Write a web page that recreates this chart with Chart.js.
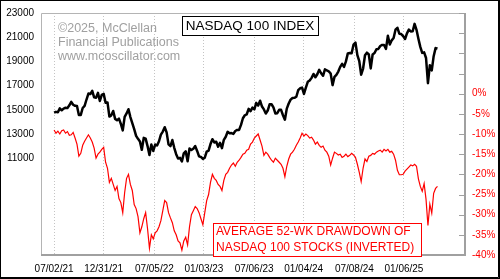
<!DOCTYPE html>
<html>
<head>
<meta charset="utf-8">
<script src="https://cdn.jsdelivr.net/npm/chart.js@4.4.1/dist/chart.umd.min.js"></script>
<style>
  html, body { margin: 0; padding: 0; background: #fff; }
  #myChart { display: block; }
</style>
</head>
<body>
<canvas id="myChart" width="500" height="279"></canvas>
<script>
// weekly values, Fridays, first week is 07/02/21
const firstWeek = '2021-07-02';

const ndx = [
  14760, 14830, 14800, 15120, 14960, 15100, 15170, 15140, 15370, 15650, 15420, 15330, 15310, 14570,
  14580, 15150, 15320, 15850, 16340, 16300, 16570, 16030, 15990, 16400, 15730, 16240, 16320,
  // 2022
  15590, 15610, 14440, 14540, 14900, 14250, 14140, 14270, 13840, 13300, 14420, 14700, 15050,
  14400, 13900, 13400, 12850, 12600, 12390, 11690, 12680, 12620, 12000, 11270, 12130, 11600,
  12130, 12050, 12400, 12950, 13200, 13560, 13130, 12140, 12000, 12500, 11860, 11330, 10970,
  11030, 10740, 11400, 11570, 10750, 11800, 11680, 11780, 12000, 11600, 11150, 11100, 10940,
  // 2023
  11040, 11540, 11620, 12170, 12570, 12300, 12360, 11950, 12270, 11830, 12520, 12770, 13180,
  13070, 13080, 13010, 13250, 13340, 13340, 13750, 14300, 14550, 14630, 15080, 14890, 15180,
  15030, 15570, 15350, 15750, 15270, 15030, 14690, 14940, 15450, 15460, 15200, 14700, 14720,
  15000, 14995, 14550, 14180, 15100, 15520, 15840, 15980, 15990, 16080, 16620, 16780, 16830,
  // 2024
  16310, 16830, 17310, 17420, 17640, 17960, 17690, 17940, 18300, 18020, 17810, 18340, 18250,
  18180, 18000, 17040, 17720, 17890, 18160, 18550, 18800, 18540, 19000, 19660, 19700, 19680,
  20390, 20550, 19520, 19020, 17900, 18410, 19510, 19720, 19570, 18420, 19570, 19690, 20000,
  20030, 20270, 20360, 20350, 20030, 21120, 20390, 20740, 20930, 21620, 21780, 21290, 21260,
  // 2025
  21090, 20850, 21320, 21630, 21480, 21490, 22100, 21610, 20880, 20200, 19700, 19750, 19280,
  17200, 18690, 18260, 19430, 20100, 20060
];

// average 52-week drawdown of NASDAQ 100 stocks, percent
const drawdown = [
  -9.0, -9.8, -9.3, -10.0, -9.2, -9.0, -9.8, -9.4, -10.3, -10.2,
  -9.6, -11.0, -12.5, -15.5, -14.8, -12.8, -11.8, -11.0, -10.2, -11.0,
  -12.0, -13.5, -16.0, -15.0, -14.5, -13.8, -13.3, -17.0, -18.5, -22.0,
  -21.0, -22.5, -24.0, -23.0, -26.0, -27.0, -29.5, -24.5, -21.0, -20.0,
  -22.5, -24.0, -27.5, -28.5, -30.5, -34.5, -33.0, -31.0, -29.5, -33.5,
  -38.3, -35.0, -36.0, -34.5, -34.0, -33.0, -31.5, -29.0, -26.5, -27.0,
  -29.5, -30.8, -32.0, -34.0, -35.0, -36.5, -37.0, -38.8, -36.5, -35.6,
  -37.5, -33.0, -30.0, -29.0, -28.0, -28.5, -29.5, -31.0, -32.5, -29.5,
  -26.5, -25.0, -22.0, -20.0, -21.0, -21.5, -22.5, -23.0, -24.0, -21.5,
  -20.0, -19.5, -18.5, -17.7, -17.2, -18.0, -17.0, -16.5, -15.8, -15.0,
  -14.8, -14.0, -13.8, -12.5, -12.0, -11.0, -10.5, -10.0, -11.5, -13.0,
  -15.3, -14.5, -15.0, -15.8, -16.5, -17.0, -16.0, -16.5, -17.0, -17.5,
  -18.5, -20.6, -18.0, -16.2, -15.0, -14.5, -13.8, -12.8, -12.0, -11.0,
  -9.8, -10.5, -10.0, -10.4, -11.0, -10.8, -11.5, -12.5, -12.0, -12.8,
  -13.3, -13.0, -14.0, -14.5, -15.5, -17.7, -16.0, -14.5, -14.8, -15.2,
  -15.0, -15.8, -15.5, -15.0, -15.6, -15.3, -14.8, -15.2, -15.8, -17.5,
  -19.5, -21.8, -18.5, -16.2, -16.8, -15.5, -15.3, -14.8, -15.0, -14.5,
  -14.2, -14.0, -14.5, -13.8, -14.2, -13.8, -14.5, -14.3, -15.0, -16.5,
  -19.0, -20.1, -20.1, -20.0, -19.2, -18.7, -18.2, -17.7, -17.9, -17.5,
  -18.0, -21.1, -23.0, -24.2, -22.3, -26.2, -32.7, -27.4, -29.6, -24.7,
  -23.5, -23.0
];

const tickLabels = ['07/02/21', '12/31/21', '07/05/22', '01/03/23', '07/06/23', '01/04/24', '07/08/24', '01/06/25'];
const xStart = '2021-05-15';
const xEnd = '2025-08-18';

const FONT = "'Liberation Sans', Arial, sans-serif";

function isoDay(s) {
  const [y, m, d] = s.split('-').map(Number);
  return Date.UTC(y, m - 1, d) / 864e5;
}
function labelDay(s) {
  const [m, d, y] = s.split('/').map(Number);
  return Date.UTC(2000 + y, m - 1, d) / 864e5;
}

const day0 = isoDay(firstWeek);
const weekDay = i => day0 + 7 * i;
const tickDays = tickLabels.map(labelDay);

const decorations = {
  id: 'decorations',
  beforeDraw(chart) {
    const ctx = chart.ctx;
    ctx.save();
    ctx.fillStyle = '#fff';
    ctx.fillRect(0, 0, chart.width, chart.height);
    ctx.restore();
  },
  afterDraw(chart) {
    const ctx = chart.ctx;
    const a = chart.chartArea;
    const y2 = chart.scales.y2;
    ctx.save();

    // plot frame
    ctx.strokeStyle = '#b4b4b4';
    ctx.lineWidth = 1;
    ctx.beginPath();
    ctx.moveTo(a.left + 0.5, a.bottom);
    ctx.lineTo(a.left + 0.5, a.top + 0.5);
    ctx.lineTo(a.right, a.top + 0.5);
    ctx.stroke();
    ctx.strokeStyle = '#a0a0a0';
    ctx.lineWidth = 2;
    ctx.beginPath();
    ctx.moveTo(a.right, a.top);
    ctx.lineTo(a.right, a.bottom);
    ctx.lineTo(a.left, a.bottom);
    ctx.stroke();

    // right axis tick marks drawn inward
    ctx.strokeStyle = '#a0a0a0';
    ctx.lineWidth = 1;
    y2.ticks.forEach(t => {
      const y = Math.round(y2.getPixelForValue(t.value)) + 0.5;
      ctx.beginPath();
      ctx.moveTo(a.right - 6, y);
      ctx.lineTo(a.right, y);
      ctx.stroke();
    });

    // copyright
    ctx.fillStyle = '#a0a0a0';
    ctx.font = '12.5px ' + FONT;
    ctx.textBaseline = 'middle';
    ctx.textAlign = 'left';
    ctx.fillText('\u00a92025, McClellan', 58, 29);
    ctx.fillText('Financial Publications', 58, 43);
    ctx.fillText('www.mcoscillator.com', 58, 57);

    // title box
    ctx.fillStyle = '#fff';
    ctx.fillRect(182, 16, 136, 19);
    ctx.strokeStyle = '#000';
    ctx.strokeRect(182.5, 16.5, 136, 19);
    ctx.fillStyle = '#000';
    ctx.font = '13.5px ' + FONT;
    ctx.textAlign = 'center';
    ctx.fillText('NASDAQ 100 INDEX', 250, 26.5);

    // red legend box
    ctx.fillStyle = '#fff';
    ctx.fillRect(213, 223, 208, 33);
    ctx.strokeStyle = '#ff0000';
    ctx.strokeRect(213.5, 223.5, 208, 33);
    ctx.fillStyle = '#ff0000';
    ctx.font = '12px ' + FONT;
    ctx.textAlign = 'left';
    ctx.fillText('AVERAGE 52-WK DRAWDOWN OF', 216, 232);
    ctx.fillText('NASDAQ 100 STOCKS (INVERTED)', 216, 248);

    // outer frame
    ctx.strokeStyle = '#000';
    ctx.lineWidth = 1;
    ctx.strokeRect(0.5, 0.5, chart.width - 1, chart.height - 1);
    ctx.beginPath();
    ctx.moveTo(chart.width - 1.5, 0);
    ctx.lineTo(chart.width - 1.5, chart.height - 1.5);
    ctx.lineTo(0, chart.height - 1.5);
    ctx.stroke();

    ctx.restore();
  }
};

const ctx = document.getElementById('myChart').getContext('2d');

const myChart = new Chart(ctx, {
  type: 'line',
  data: {
    datasets: [
      {
        label: 'Average 52-wk drawdown',
        data: drawdown.map((v, i) => ({ x: weekDay(i), y: v })),
        yAxisID: 'y2',
        borderColor: '#ff0000',
        borderWidth: 1.2,
        pointRadius: 0,
        tension: 0
      },
      {
        label: 'NASDAQ 100',
        data: ndx.map((v, i) => ({ x: weekDay(i), y: v })),
        yAxisID: 'y',
        borderColor: '#000000',
        borderWidth: 2.5,
        borderJoinStyle: 'round',
        pointRadius: 0,
        tension: 0
      }
    ]
  },
  options: {
    responsive: false,
    animation: false,
    devicePixelRatio: 1,
    layout: { padding: { top: 8, left: 0, right: 0, bottom: 0 } },
    plugins: {
      legend: { display: false },
      tooltip: { enabled: false }
    },
    scales: {
      x: {
        type: 'linear',
        min: isoDay(xStart),
        max: isoDay(xEnd),
        afterBuildTicks: s => { s.ticks = tickDays.map(v => ({ value: v })); },
        afterFit: s => { s.height = 24; },
        ticks: {
          autoSkip: false,
          maxRotation: 0,
          padding: 8,
          color: '#000',
          font: { family: FONT, size: 10 },
          callback: (v, i) => tickLabels[i]
        },
        grid: { color: '#c4c4c4', drawTicks: false },
        border: { display: false, dash: [1, 2] }
      },
      y: {
        position: 'left',
        min: 3000,
        max: 23000,
        afterFit: s => { s.width = 41; },
        ticks: {
          stepSize: 2000,
          padding: 7,
          color: '#000',
          font: { family: FONT, size: 10 },
          callback: v => (v >= 11000 ? String(v) : '')
        },
        grid: { display: false, drawTicks: false },
        border: { display: false }
      },
      y2: {
        position: 'right',
        min: -40,
        max: 20,
        afterFit: s => { s.width = 35; },
        ticks: {
          stepSize: 5,
          padding: 7,
          color: '#ff0000',
          font: { family: FONT, size: 10 },
          callback: v => (v <= 0 ? v + '%' : '')
        },
        grid: { display: false, drawTicks: false },
        border: { display: false }
      }
    }
  },
  plugins: [decorations]
});
</script>
</body>
</html>
